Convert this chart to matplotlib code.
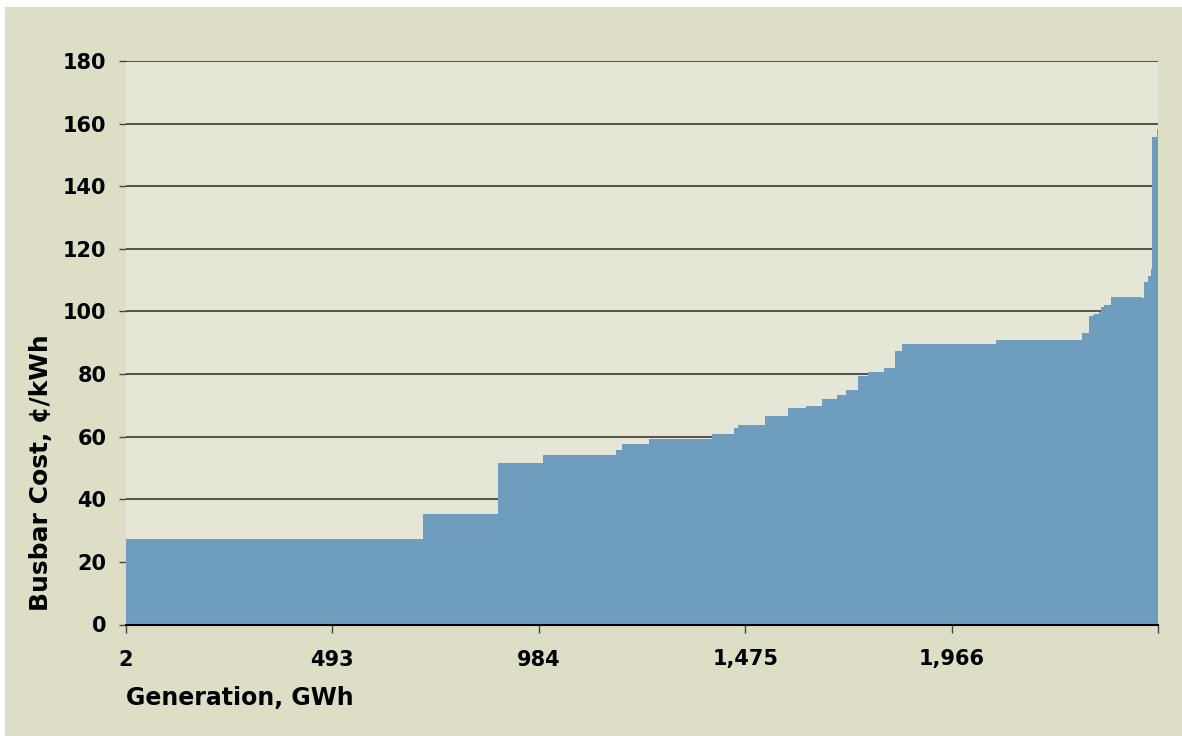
import matplotlib.pyplot as plt
from matplotlib.patches import Rectangle

# cumulative generation (GWh) at each step boundary
gen_edges = [2, 708, 887, 994, 1167, 1182, 1246, 1396, 1448, 1458, 1522, 1577,
             1620, 1658, 1693, 1715, 1743, 1767, 1805, 1831, 1848, 2072, 2276,
             2293, 2303, 2305, 2317, 2322, 2329, 2345, 2419, 2424, 2434, 2441,
             2443, 2455, 2457]
# busbar cost (cents/kWh) of each step
cost = [27.4, 35.4, 51.7, 54.2, 55.8, 57.7, 59.3, 60.9, 62.8, 63.7, 66.6, 69.2,
        69.8, 72.0, 73.3, 74.9, 79.3, 80.6, 81.9, 87.3, 89.5, 90.8, 93.1, 98.5,
        98.9, 99.2, 99.8, 101.4, 102.0, 104.6, 104.3, 109.4, 111.3, 113.5,
        155.6, 158.2]

x_ticks = [2, 493, 984, 1475, 1966, 2457]
x_labels = ['2', '493', '984', '1,475', '1,966', '']
y_ticks = [0, 20, 40, 60, 80, 100, 120, 140, 160, 180]

fig = plt.figure(figsize=(11.82, 7.36), dpi=100, facecolor='white')
# beige panel, offset from the top/left like the original
fig.patches.append(Rectangle((5 / 1182, 0), 1, 1 - 7 / 736, transform=fig.transFigure,
                             facecolor='#DEDEC7', edgecolor='none', zorder=-1))

ax = fig.add_axes([126 / 1182, 1 - 624.5 / 736, (1158 - 126) / 1182, (624.5 - 61) / 736])
ax.set_facecolor('#E5E6D6')

ax.stairs(cost, gen_edges, fill=True, color='#6F9DBE', zorder=3)

ax.set_xlim(2, 2457)
ax.set_ylim(0, 180)
ax.set_xticks(x_ticks)
ax.set_xticklabels(x_labels)
ax.set_yticks(y_ticks)

ax.yaxis.grid(True, color='#3a3a35', linewidth=1.2)
ax.set_axisbelow(True)
for s in ['top', 'right', 'left']:
    ax.spines[s].set_visible(False)
ax.spines['bottom'].set_color('black')
ax.spines['bottom'].set_linewidth(1.5)
ax.spines['bottom'].set_zorder(5)

ax.tick_params(axis='x', direction='out', length=6, width=1, color='#444444', pad=12,
               labelsize=15)
ax.tick_params(axis='y', direction='out', length=5, width=1, color='#444444', pad=9,
               labelsize=15)
for lab in ax.get_xticklabels() + ax.get_yticklabels():
    lab.set_fontweight('bold')

ax.set_xlabel('Generation, GWh', fontsize=17, fontweight='bold', loc='left', labelpad=12)
ax.set_ylabel('Busbar Cost, ¢/kWh', fontsize=18, fontweight='bold')
ax.yaxis.set_label_coords(-0.071, 0.269)

plt.savefig('out.png', dpi=100, facecolor=fig.get_facecolor())
